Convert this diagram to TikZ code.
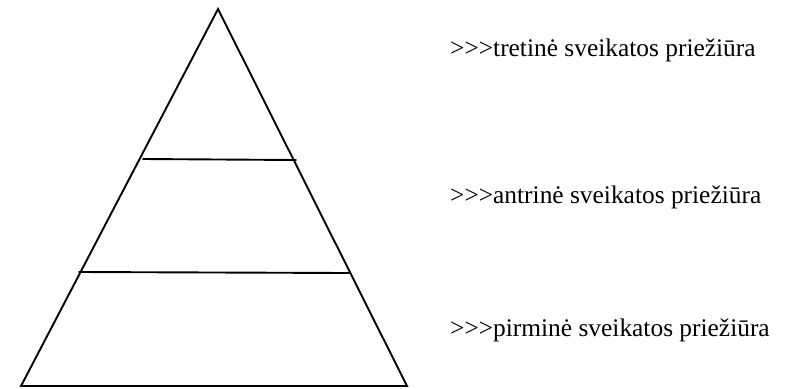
\documentclass[tikz,border=0pt]{standalone}
\usepackage{fontspec}
\setmainfont{Liberation Serif}
\begin{document}
\begin{tikzpicture}[x=1bp,y=-1bp,
  edge/.style={draw=black,line width=1.9bp,line cap=round},
  lbl/.style={anchor=base west,inner sep=0pt,font=\fontsize{25.5}{30}\selectfont}]
\useasboundingbox (0,0) rectangle (797,388);
\coordinate (apex) at (218,9);
\coordinate (bl) at (21,386);
\coordinate (br) at (407,386);
\coordinate (u1) at (143,159);
\coordinate (u2) at (296,160);
\coordinate (l1) at (79,272);
\coordinate (l2) at (349,273);
\draw[edge] (bl) -- (apex) -- (br) -- cycle;
\draw[edge] (u1) -- (u2);
\draw[edge] (l1) -- (l2);
\node[lbl] (t3) at (450,56) {>{}>{}>tretinė sveikatos priežiūra};
\node[lbl] (t2) at (450,203) {>{}>{}>antrinė sveikatos priežiūra};
\node[lbl] (t1) at (450,336) {>{}>{}>pirminė sveikatos priežiūra};
\end{tikzpicture}
\end{document}
